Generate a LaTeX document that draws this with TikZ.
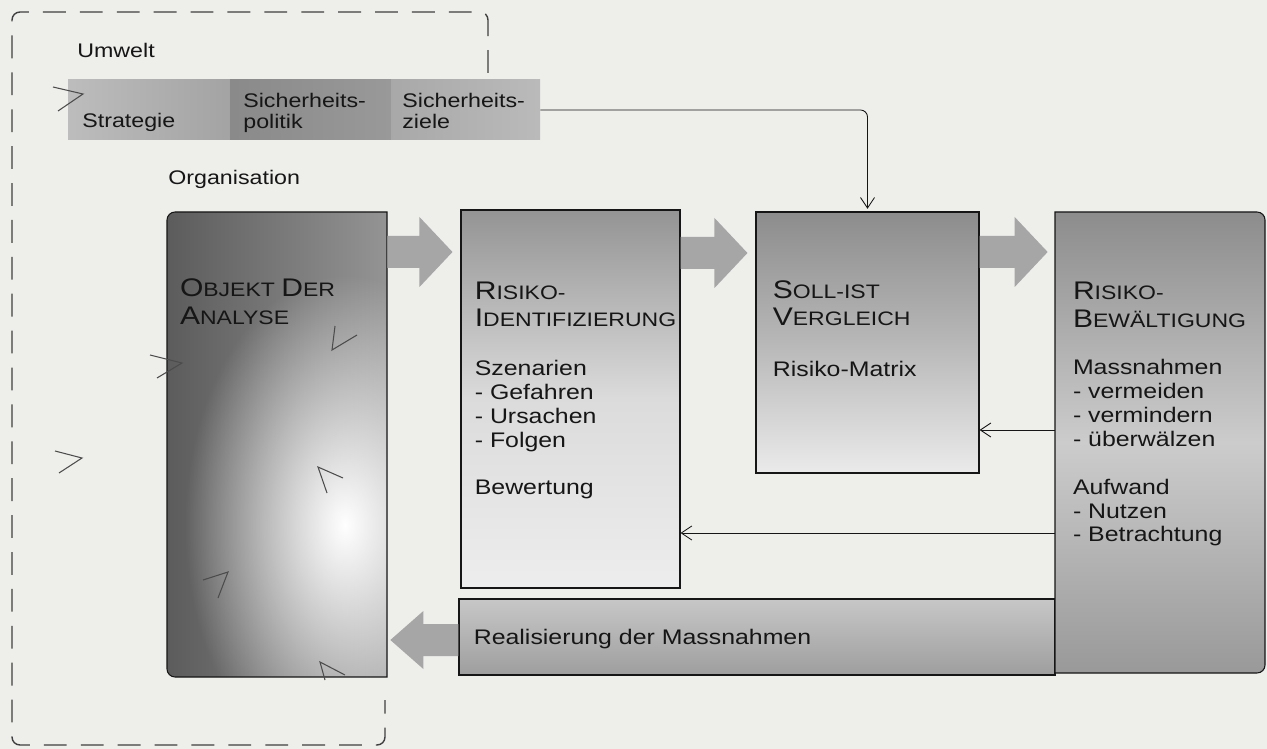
\documentclass[tikz,border=0pt]{standalone}
\usepackage{fontspec}
\setmainfont[FakeStretch=1.18]{Liberation Sans}
\usetikzlibrary{arrows.meta,positioning,calc,fit,fadings}

\definecolor{paper}{RGB}{238,238,235}
\definecolor{ink}{RGB}{22,22,22}

% small caps title: big first letter, rest smaller
\newcommand{\sck}[2]{{\fontsize{14.5}{15.6}\selectfont #1}#2}
% lines of a text block, baseline at the first line
\newcommand{\stack}[1]{\begin{tabular}[t]{@{}l@{}}#1\end{tabular}}
% fat grey arrow: tail, tip, half height of the head
\newcommand{\fatarrow}[3]{%
  \fill[fatgray] ($(#1)+(0,-16)$) -- ($(#2)!0.66cm!(#1)+(0,-16)$)
    -- ($(#2)!0.66cm!(#1)+(0,-#3)$) -- (#2)
    -- ($(#2)!0.66cm!(#1)+(0,#3)$) -- ($(#2)!0.66cm!(#1)+(0,16)$)
    -- ($(#1)+(0,16)$) -- cycle;}

\tikzfading[name=softblob, inner color=transparent!0, outer color=transparent!100]

\tikzset{
  stage/.style={draw=ink, line width=0.6pt, inner sep=0},
  stageline/.style={draw=ink, line width=0.6pt},
  fatgray/.style={fill=black!35},
  thinarrow/.style={draw=ink, line width=0.5pt, -{Straight Barb[length=6pt,width=8pt]}},
  boundary/.style={draw=black!75, line width=0.8pt, dash pattern=on 13pt off 8pt},
  title/.style={anchor=base west, inner sep=0, text=ink, font=\fontsize{11.1}{15.6}\selectfont},
  body/.style={anchor=base west, inner sep=0, text=ink, font=\fontsize{12}{13.6}\selectfont},
  label/.style={anchor=base west, inner sep=0, text=ink, font=\fontsize{11.2}{11.5}\selectfont},
  pencil/.style={draw=black!70, line width=0.6pt}
}

\begin{document}
\begin{tikzpicture}[x=0.02cm, y=-0.02cm]
  \fill[paper] (0,0) rectangle (1267,749);

  % Umwelt boundary
  \draw[boundary] (488,73) -- (488,20) arc[start angle=0,end angle=90,radius=0.16cm]
    -- (20,12) arc[start angle=90,end angle=180,radius=0.16cm]
    -- (12,737) arc[start angle=180,end angle=270,radius=0.16cm]
    -- (377,745) arc[start angle=270,end angle=360,radius=0.16cm] -- (385,700);
  \node[label] (umwelt) at (77,58) {Umwelt};
  \node[label] (orga) at (168,185) {Organisation};

  % strip
  \node[fit={(68,80) (230,140)}, inner sep=0, left color=black!26, right color=black!36] (strat) {};
  \node[fit={(230,80) (391,140)}, inner sep=0, left color=black!46, right color=black!40] (pol) {};
  \node[fit={(391,80) (540,140)}, inner sep=0, left color=black!34, right color=black!27] (ziele) {};
  \node[label] (strattxt) at (82,128) {Strategie};
  \node[label] (poltxt) at (243,108) {\stack{Sicherheits-\\politik}};
  \node[label] (zieletxt) at (402,108) {\stack{Sicherheits-\\ziele}};

  % Objekt der Analyse
  \node[fit={(167,212) (387,677)}, inner sep=0] (obj) {};
  \path[left color=black!64, right color=black!42] (387,212) -- (175,212)
    arc[start angle=90,end angle=180,radius=0.16cm] -- (167,669)
    arc[start angle=180,end angle=270,radius=0.16cm] -- (387,677) -- cycle;
  \begin{scope}
    \clip (167,212) rectangle (387,677);
    \fill[white, path fading=softblob] (345,525) ellipse [x radius=160, y radius=250];
  \end{scope}
  \draw[stageline] (387,212) -- (175,212)
    arc[start angle=90,end angle=180,radius=0.16cm] -- (167,669)
    arc[start angle=180,end angle=270,radius=0.16cm] -- (387,677) -- cycle;
  \node[title] (objtitle) at ($(obj.north west)+(13,85)$) {\stack{\sck{O}{BJEKT} \sck{D}{ER}\\\sck{A}{NALYSE}}};

  % Risiko-Identifizierung
  \node[stage, fit={(461,210) (680,588)}, top color=black!42, bottom color=black!7, middle color=black!14] (ident) {};
  \node[title] (identtitle) at ($(ident.north west)+(14,90)$) {\stack{\sck{R}{ISIKO-}\\\sck{I}{DENTIFIZIERUNG}}};
  \node[body] (identbody) at ($(ident.north west)+(14,166)$) {\stack{Szenarien\\- Gefahren\\- Ursachen\\- Folgen\\[13.6pt]Bewertung}};

  % Soll-Ist Vergleich
  \node[stage, fit={(756,212) (979,473)}, top color=black!45, bottom color=black!8, middle color=black!28] (soll) {};
  \node[title] (solltitle) at ($(soll.north west)+(17,87)$) {\stack{\sck{S}{OLL-IST}\\\sck{V}{ERGLEICH}}};
  \node[body] (sollbody) at ($(soll.north west)+(17,165)$) {Risiko-Matrix};

  % Realisierung
  \node[stage, fit={(459,599) (1055,675)}, top color=black!22, bottom color=black!38] (real) {};
  \node[body] (realtxt) at ($(real.north west)+(15,46)$) {Realisierung der Massnahmen};

  % Risiko-Bewaeltigung
  \node[fit={(1055,212) (1265,673)}, inner sep=0] (bew) {};
  \draw[stageline, top color=black!45, bottom color=black!40, middle color=black!20] (1055,212) -- (1257,212)
    arc[start angle=90,end angle=0,radius=0.16cm] -- (1265,665)
    arc[start angle=0,end angle=-90,radius=0.16cm] -- (1055,673) -- cycle;
  \node[title] (bewtitle) at ($(bew.north west)+(18,88)$) {\stack{\sck{R}{ISIKO-}\\\sck{B}{EWÄLTIGUNG}}};
  \node[body] (bewbody) at ($(bew.north west)+(18,163)$) {\stack{Massnahmen\\- vermeiden\\- vermindern\\- überwälzen\\[13.6pt]Aufwand\\- Nutzen\\- Betrachtung}};

  % fat arrows
  \coordinate (f1a) at (obj.east |- 0,252);
  \coordinate (f1b) at ($(ident.west |- 0,252)+(-8,0)$);
  \coordinate (f2a) at (ident.east |- 0,253);
  \coordinate (f2b) at ($(soll.west |- 0,253)+(-8,0)$);
  \coordinate (f3a) at (soll.east |- 0,252);
  \coordinate (f3b) at ($(bew.west |- 0,252)+(-7,0)$);
  \coordinate (f4a) at (real.west |- 0,640);
  \coordinate (f4b) at ($(obj.east |- 0,640)+(3,0)$);
  \fatarrow{f1a}{f1b}{35}
  \fatarrow{f2a}{f2b}{35}
  \fatarrow{f3a}{f3b}{35}
  \fatarrow{f4a}{f4b}{29}

  % thin arrows
  \draw[thinarrow, rounded corners=4pt, shorten >=1.5pt] (ziele.east) -| (soll.north);
  \draw[thinarrow] (bew.west |- 0,430) -- (soll.east |- 0,430);
  \draw[thinarrow] (bew.west |- 0,533) -- (ident.east |- 0,533);

  % pencil marks
  \draw[pencil] (53,87) -- (83,94) -- (58,111);
  \draw[pencil] (150,355) -- (182,363) -- (157,378);
  \draw[pencil] (55,451) -- (82,458) -- (59,473);
  \draw[pencil] (335,326) -- (332,350) -- (357,335);
  \draw[pencil] (343,478) -- (318,467) -- (327,493);
  \draw[pencil] (203,580) -- (228,572) -- (218,598);
  \draw[pencil] (345,675) -- (320,662) -- (325,680);
\end{tikzpicture}
\end{document}
